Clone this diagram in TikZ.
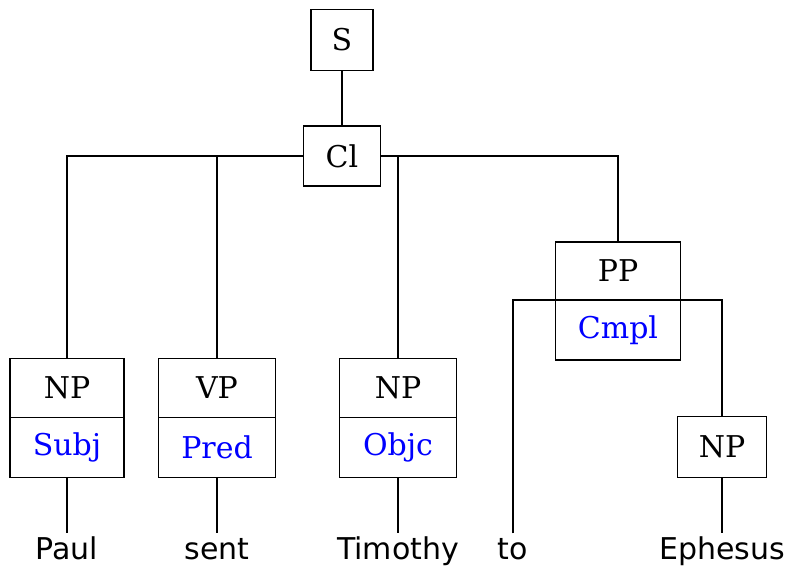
\documentclass[tikz,border=0pt]{standalone}
\usepackage{fontspec}
\setmainfont{DejaVu Serif}
\newfontfamily\wordfont{DejaVu Sans}
\usetikzlibrary{positioning}
\definecolor{fncolor}{RGB}{0,0,255}

\begin{document}
\begin{tikzpicture}[
  x=1pt, y=-1pt,
  cat/.style={draw, line width=1.5pt, inner sep=0pt, outer sep=0pt,
    font=\fontsize{30}{30}\selectfont},
  fn/.style={cat, text=fncolor},
  word/.style={inner sep=4pt, text height=22pt, text depth=7pt,
    font=\wordfont\fontsize{30}{30}\selectfont},
  edge/.style={line width=1.5pt}
]

\useasboundingbox (0,0) rectangle (788,566);

% Sentence and clause
\node[cat, minimum width=62pt, minimum height=61pt] (s) at (342,40) {S};
\node[cat, minimum width=77pt, minimum height=60pt] (cl) at (342,156) {Cl};

% Clause constituents (category over function)
\node[cat, minimum width=114pt, minimum height=59pt] (np1) at (67,388) {NP};
\node[fn, minimum width=114pt, minimum height=60pt, below=0pt of np1] (subj) {Subj};

\node[cat, minimum width=117pt, minimum height=59pt] (vp) at (217,388) {VP};
\node[fn, minimum width=117pt, minimum height=60pt, below=0pt of vp] (pred) {Pred};

\node[cat, minimum width=117pt, minimum height=59pt] (np2) at (398,388) {NP};
\node[fn, minimum width=117pt, minimum height=60pt, below=0pt of np2] (objc) {Objc};

\node[cat, minimum width=125pt, minimum height=58pt] (pp) at (618,271) {PP};
\node[fn, minimum width=125pt, minimum height=60pt, below=0pt of pp] (cmpl) {Cmpl};

% NP inside the PP
\node[cat, minimum width=89pt, minimum height=61pt] (np3) at (722,447) {NP};

% Words
\node[word] (paul) at (67,552) {Paul};
\node[word] (sent) at (217,552) {sent};
\node[word] (timothy) at (398,552) {Timothy};
\node[word] (to) at (513,552) {to};
\node[word] (ephesus) at (722,552) {Ephesus};

% Branches
\draw[edge] (s) -- (cl);
\draw[edge] (cl.west) -| (np1.north);
\draw[edge] (cl.west -| vp.north) -- (vp.north);
\draw[edge] (cl.east -| np2.north) -- (np2.north);
\draw[edge] (cl.east) -| (pp.north);
\draw[edge] (to.north) |- (pp.south) -| (np3.north);

% Leaves
\draw[edge] (subj) -- (paul);
\draw[edge] (pred) -- (sent);
\draw[edge] (objc) -- (timothy);
\draw[edge] (np3) -- (ephesus);

\end{tikzpicture}
\end{document}
